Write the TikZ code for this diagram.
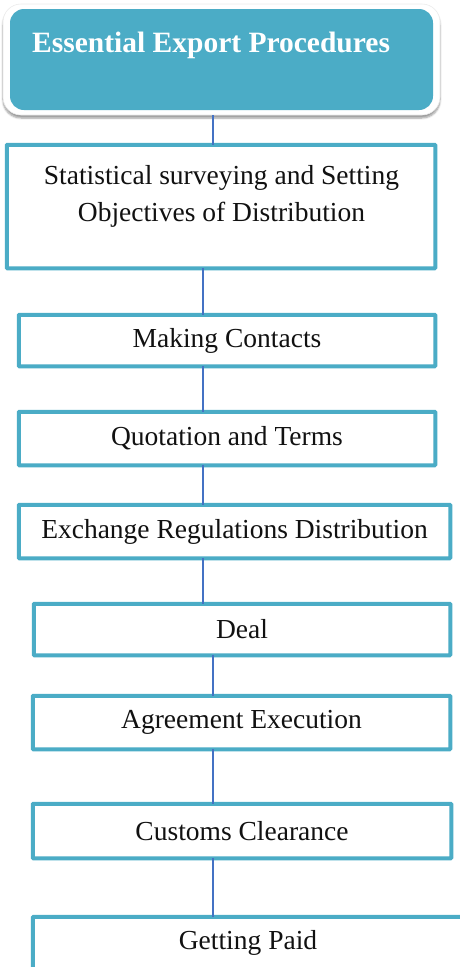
\documentclass[tikz,border=0pt]{standalone}
\usepackage{fontspec}
\setmainfont{Liberation Serif}
\usetikzlibrary{shadows.blur}
\definecolor{stepteal}{HTML}{4BACC6}
\definecolor{linkblue}{HTML}{4472C4}
\definecolor{inktext}{HTML}{111111}

\begin{document}
\begin{tikzpicture}[x=1pt,y=-1pt,
  stepbox/.style={draw=stepteal, line width=4pt, fill=white,
    rounded corners=0.8pt, inner sep=0pt, outer sep=0pt,
    font=\fontsize{27.5}{37}\selectfont, text=inktext},
  steptext/.style={inner sep=0pt, align=center,
    font=\fontsize{27.5}{37}\selectfont, text=inktext},
  headbox/.style={fill=white, draw=black!8, line width=0.6pt,
    rounded corners=18pt, inner sep=0pt, outer sep=0pt,
    blur shadow={shadow xshift=0pt, shadow yshift=-3pt, shadow blur steps=6,
      shadow opacity=40}},
  headfill/.style={fill=stepteal, rounded corners=14pt, inner sep=0pt, outer sep=0pt},
  headtext/.style={inner sep=0pt, text=white,
    font=\fontsize{29.5}{34}\selectfont\bfseries},
  link/.style={draw=linkblue, line width=1.1pt}]

\useasboundingbox (0,0) rectangle (460,967);
\clip (0,0) rectangle (460,967);

% x positions of the vertical connectors
\coordinate (xa) at (213,0);
\coordinate (xb) at (203,0);

% heading
\node[headbox, minimum width=437pt, minimum height=111pt] (head) at (221.5,59.5) {};
\node[headfill, minimum width=423pt, minimum height=101pt] (headfill) at (221.5,59.5) {};
\node[headtext, anchor=base west] (title) at (32,52) {Essential Export Procedures};

% procedure steps
\node[stepbox, minimum width=428.5pt, minimum height=123.5pt] (b1) at (221,206.5) {};
\node[steptext] (b1text) at (221.5,196) {Statistical surveying and Setting\\Objectives of Distribution};

\node[stepbox, minimum width=416.5pt, minimum height=51.5pt] (b2) at (227,340.5) {Making Contacts};
\node[stepbox, minimum width=416.5pt, minimum height=53.5pt] (b3) at (227,438.5) {Quotation and Terms};
\node[stepbox, minimum width=431.5pt, minimum height=53.5pt] (b4) at (234.5,531.5) {Exchange Regulations Distribution};
\node[stepbox, minimum width=416.5pt, minimum height=51.5pt] (b5) at (242,629.5) {Deal};
\node[stepbox, minimum width=417.5pt, minimum height=53.5pt] (b6) at (241.5,722.5) {Agreement Execution};
\node[stepbox, minimum width=418.5pt, minimum height=54.5pt] (b7) at (242,831) {Customs Clearance};

\node[stepbox, minimum width=432.25pt, minimum height=100pt] (b8) at (248.9,966.75) {};
\node[steptext] (b8text) at (248,943) {Getting Paid};

% connectors
\draw[link] (head.south -| xa) -- (b1.north -| xa);
\draw[link] (b1.south -| xb) -- (b2.north -| xb);
\draw[link] (b2.south -| xb) -- (b3.north -| xb);
\draw[link] (b3.south -| xb) -- (b4.north -| xb);
\draw[link] (b4.south -| xb) -- (b5.north -| xb);
\draw[link] (b5.south -| xa) -- (b6.north -| xa);
\draw[link] (b6.south -| xa) -- (b7.north -| xa);
\draw[link] (b7.south -| xa) -- (b8.north -| xa);
\end{tikzpicture}
\end{document}
